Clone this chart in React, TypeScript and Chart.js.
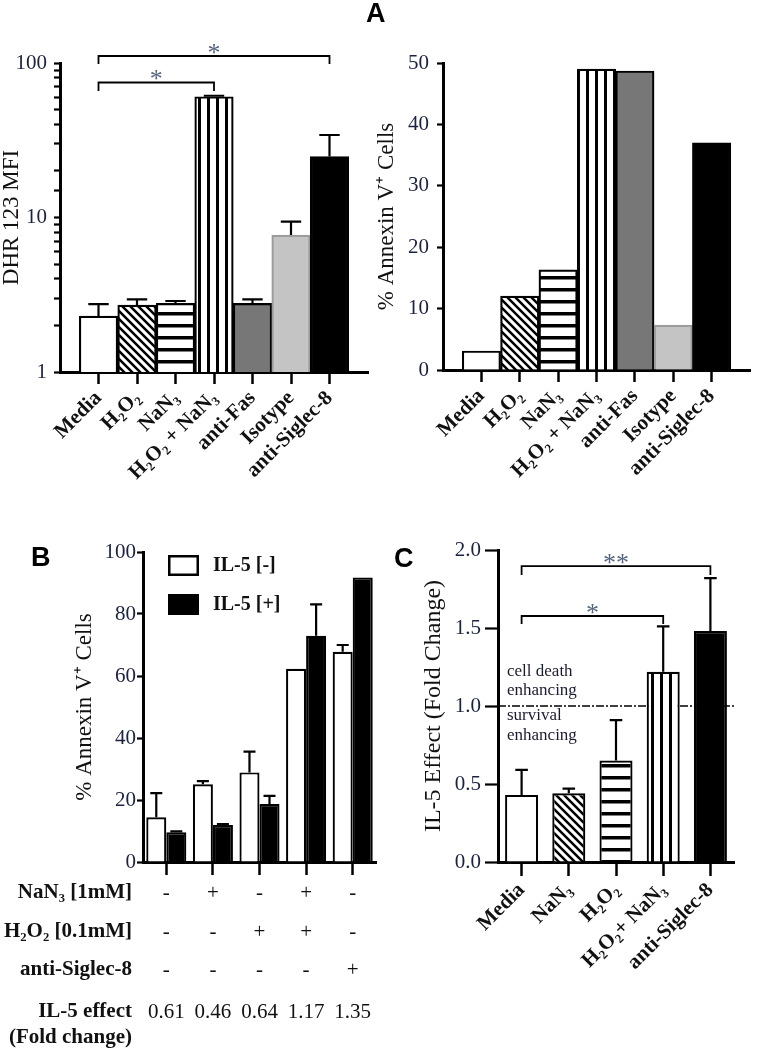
import React, { useEffect, useRef } from "react";
import { Chart, registerables } from "chart.js";
Chart.register(...registerables);

const SERIF = "'Liberation Serif', 'Times New Roman', Times, serif";
const SANS = "'Liberation Sans', Arial, Helvetica, sans-serif";
const INK = "#111111";
const TICK_INK = "#1b2140";
const STAR_INK = "#56667e";

// ---------------- Panel A data ----------------
const categoriesA = ["Media", "H₂O₂", "NaN₃", "H₂O₂ + NaN₃", "anti-Fas", "Isotype", "anti-Siglec-8"];
const dhrMfi = [2.3, 2.71, 2.78, 60.5, 2.78, 7.7, 24.8];
const dhrErr = [0.45, 0.24, 0.1, 0.9, 0.17, 1.7, 9.4];
const annexinA = [3.1, 12.05, 16.3, 49.0, 48.7, 7.3, 37.0];
const logTickLabels = [1, 10, 100];
const bracketsA = [
  { from: 0, to: 6, level: 111, leg: 98.6, label: "*" },
  { from: 0, to: 3, level: 74.8, leg: 65.9, label: "*" },
];

// ---------------- Panel B data ----------------
const conditionsB = ["Media", "NaN₃", "H₂O₂", "H₂O₂ + NaN₃", "anti-Siglec-8"];
const seriesBLabels = ["IL-5 [-]", "IL-5 [+]"];
const il5Minus = [14.4, 25.1, 28.9, 62.3, 67.8];
const il5MinusErr = [7.8, 1.0, 6.7, 0, 2.2];
const il5Plus = [9.6, 11.9, 18.7, 73.0, 91.8];
const il5PlusErr = [0.3, 0.3, 2.6, 10.1, 0];
const nanRow = ["-", "+", "-", "+", "-"];
const h2o2Row = ["-", "-", "+", "+", "-"];
const siglecRow = ["-", "-", "-", "-", "+"];
const il5EffectRow = ["0.61", "0.46", "0.64", "1.17", "1.35"];

// ---------------- Panel C data ----------------
const categoriesC = ["Media", "NaN₃", "H₂O₂", "H₂O₂+ NaN₃", "anti-Siglec-8"];
const foldC = [0.43, 0.44, 0.65, 1.22, 1.48];
const foldCErr = [0.16, 0.03, 0.26, 0.29, 0.34];
const bracketsC = [
  { from: 0, to: 4, level: 1.897, leg: 1.84, label: "**" },
  { from: 0, to: 3, level: 1.577, leg: 1.526, label: "*" },
];

type Kind = "diag" | "horiz" | "vert";
function makePattern(kind: Kind): CanvasPattern {
  const c = document.createElement("canvas");
  const s = kind === "horiz" ? 12 : kind === "vert" ? 9 : 8;
  c.width = s;
  c.height = s;
  const x = c.getContext("2d")!;
  x.fillStyle = "#fff";
  x.fillRect(0, 0, s, s);
  x.fillStyle = "#000";
  x.strokeStyle = "#000";
  if (kind === "horiz") x.fillRect(0, 0, s, 3.5);
  if (kind === "vert") x.fillRect(0, 0, 3, s);
  if (kind === "diag") {
    x.lineWidth = 2.5;
    x.beginPath();
    for (let k = -1; k <= 1; k++) {
      x.moveTo(k * s - 2, -2);
      x.lineTo(k * s + s + 2, s + 2);
    }
    x.stroke();
  }
  return x.createPattern(c, "repeat")!;
}

function drawErrorBars(chart: any, errs: number[][], capFrac: number) {
  const ctx = chart.ctx;
  const y = chart.scales.y;
  ctx.save();
  ctx.strokeStyle = "#000";
  ctx.lineWidth = 2.2;
  chart.data.datasets.forEach((ds: any, di: number) => {
    const e = errs[di];
    if (!e) return;
    const meta = chart.getDatasetMeta(di);
    meta.data.forEach((el: any, i: number) => {
      const err = e[i];
      if (!err) return;
      const raw = ds.data[i];
      const v = typeof raw === "number" ? raw : raw.y;
      const p = el.getProps(["x", "y", "width"], true);
      const top = y.getPixelForValue(v + err);
      const cw = (p.width * capFrac) / 2;
      ctx.beginPath();
      ctx.moveTo(p.x, p.y);
      ctx.lineTo(p.x, top);
      ctx.moveTo(p.x - cw, top);
      ctx.lineTo(p.x + cw, top);
      ctx.stroke();
    });
  });
  ctx.restore();
}

function drawBrackets(chart: any, list: any[]) {
  const { ctx } = chart;
  const xs = chart.scales.x;
  const ys = chart.scales.y;
  ctx.save();
  list.forEach((b) => {
    const x1 = xs.getPixelForValue(b.from);
    const x2 = xs.getPixelForValue(b.to);
    const yl = ys.getPixelForValue(b.level);
    const yg = ys.getPixelForValue(b.leg);
    ctx.strokeStyle = "#000";
    ctx.lineWidth = 1.8;
    ctx.beginPath();
    ctx.moveTo(x1, yg);
    ctx.lineTo(x1, yl);
    ctx.lineTo(x2, yl);
    ctx.lineTo(x2, yg);
    ctx.stroke();
    ctx.fillStyle = STAR_INK;
    ctx.font = `26px ${SERIF}`;
    ctx.textAlign = "center";
    ctx.textBaseline = "alphabetic";
    ctx.fillText(b.label, (x1 + x2) / 2, yl + 5);
  });
  ctx.restore();
}

function xAxisLinear(labels: string[], height: number) {
  return {
    type: "linear",
    min: -1,
    max: labels.length,
    offset: false,
    grid: { display: true, offset: false, drawOnChartArea: false, drawTicks: true, tickLength: 12, tickWidth: 2.5, tickColor: "#000" },
    border: { display: true, color: "#000", width: 3 },
    afterBuildTicks: (s: any) => {
      s.ticks = labels.map((_, i) => ({ value: i }));
    },
    afterFit: (s: any) => {
      s.height = height;
    },
    ticks: {
      autoSkip: false,
      maxRotation: 45,
      minRotation: 45,
      padding: 2,
      color: INK,
      font: { family: SERIF, size: 21, weight: "bold" },
      callback: (v: any) => labels[v as number] ?? "",
    },
  };
}

function configALeft(): any {
  const fills = ["#ffffff", makePattern("diag"), makePattern("horiz"), makePattern("vert"), "#777777", "#c4c4c4", "#000000"];
  const borders = ["#000", "#000", "#000", "#000", "#000", "#9c9c9c", "#000"];
  return {
    type: "bar",
    data: {
      datasets: [
        {
          data: dhrMfi.map((v, i) => ({ x: i, y: v })),
          backgroundColor: fills,
          borderColor: borders,
          borderWidth: 2.2,
          barPercentage: 1,
          categoryPercentage: 1,
        },
      ],
    },
    options: {
      responsive: false,
      animation: false,
      devicePixelRatio: 1,
      layout: { padding: { top: 63, right: 2, left: 0, bottom: 0 } },
      plugins: { legend: { display: false }, tooltip: { enabled: false } },
      scales: {
        x: xAxisLinear(categoriesA, 108),
        y: {
          type: "logarithmic",
          min: 1,
          max: 100,
          grid: { drawOnChartArea: false, tickLength: 6, tickWidth: 2.2, tickColor: "#000" },
          border: { color: "#000", width: 3 },
          afterFit: (s: any) => {
            s.width = 60;
          },
          ticks: {
            autoSkip: false,
            padding: 7,
            color: TICK_INK,
            font: { family: SERIF, size: 21 },
            callback: (v: any) => (logTickLabels.includes(Number(v)) ? String(v) : ""),
          },
          title: {
            display: true,
            text: "DHR 123 MFI",
            color: INK,
            font: { family: SERIF, size: 23, lineHeight: 1 },
            padding: { top: 0, bottom: 0 },
          },
        },
      },
    },
    plugins: [
      { id: "errA", afterDatasetsDraw: (c: any) => drawErrorBars(c, [dhrErr], 0.53) },
      { id: "brA", afterDraw: (c: any) => drawBrackets(c, bracketsA) },
    ],
  };
}

function configARight(): any {
  const fills = ["#ffffff", makePattern("diag"), makePattern("horiz"), makePattern("vert"), "#777777", "#c4c4c4", "#000000"];
  const borders = ["#000", "#000", "#000", "#000", "#000", "#9c9c9c", "#000"];
  return {
    type: "bar",
    data: {
      datasets: [
        {
          data: annexinA.map((v, i) => ({ x: i, y: v })),
          backgroundColor: fills,
          borderColor: borders,
          borderWidth: 2.2,
          barPercentage: 1,
          categoryPercentage: 1,
        },
      ],
    },
    options: {
      responsive: false,
      animation: false,
      devicePixelRatio: 1,
      layout: { padding: { top: 63, right: 12, left: 0, bottom: 0 } },
      plugins: { legend: { display: false }, tooltip: { enabled: false } },
      scales: {
        x: xAxisLinear(categoriesA, 110),
        y: {
          type: "linear",
          min: 0,
          max: 50,
          grid: { drawOnChartArea: false, tickLength: 6, tickWidth: 2.2, tickColor: "#000" },
          border: { color: "#000", width: 3 },
          afterFit: (s: any) => {
            s.width = 73;
          },
          ticks: { stepSize: 10, padding: 8, color: TICK_INK, font: { family: SERIF, size: 21 } },
          title: {
            display: true,
            text: "% Annexin V⁺ Cells",
            color: INK,
            font: { family: SERIF, size: 23, lineHeight: 1 },
            padding: { top: 5, bottom: 0 },
          },
        },
      },
    },
  };
}

function configB(): any {
  return {
    type: "bar",
    data: {
      labels: conditionsB,
      datasets: [
        { label: seriesBLabels[0], data: il5Minus, backgroundColor: "#ffffff", borderColor: "#000", borderWidth: 2.2 },
        { label: seriesBLabels[1], data: il5Plus, backgroundColor: "#000000", borderColor: "#000", borderWidth: 2.2 },
      ],
    },
    options: {
      responsive: false,
      animation: false,
      devicePixelRatio: 1,
      barPercentage: 1,
      categoryPercentage: 0.86,
      layout: { padding: { top: 52, right: 5, left: 0, bottom: 0 } },
      plugins: { legend: { display: false }, tooltip: { enabled: false } },
      scales: {
        x: {
          type: "category",
          offset: true,
          grid: { display: true, offset: false, drawOnChartArea: false, tickLength: 13, tickWidth: 2.5, tickColor: "#000" },
          border: { color: "#000", width: 3 },
          afterFit: (s: any) => {
            s.height = 188;
          },
          ticks: { autoSkip: false, maxRotation: 0, minRotation: 0, callback: () => "" },
        },
        y: {
          type: "linear",
          min: 0,
          max: 100,
          grid: { drawOnChartArea: false, tickLength: 6, tickWidth: 2.2, tickColor: "#000" },
          border: { color: "#000", width: 3 },
          afterFit: (s: any) => {
            s.width = 143;
          },
          ticks: { stepSize: 20, padding: 1, color: TICK_INK, font: { family: SERIF, size: 21 } },
          title: {
            display: true,
            text: "% Annexin V⁺ Cells",
            color: INK,
            font: { family: SERIF, size: 23, lineHeight: 1 },
            padding: { top: 73, bottom: 0 },
          },
        },
      },
    },
    plugins: [
      { id: "errB", afterDatasetsDraw: (c: any) => drawErrorBars(c, [il5MinusErr, il5PlusErr], 0.6) },
      {
        id: "legendB",
        afterDraw: (c: any) => {
          const { ctx, chartArea } = c;
          ctx.save();
          c.data.datasets.forEach((ds: any, i: number) => {
            const bx = chartArea.left + 25;
            const by = chartArea.top + 3 + i * 39;
            ctx.fillStyle = ds.backgroundColor;
            ctx.fillRect(bx, by, 31, 21);
            ctx.strokeStyle = "#000";
            ctx.lineWidth = 2.5;
            ctx.strokeRect(bx + 1.25, by + 1.25, 28.5, 18.5);
            ctx.fillStyle = INK;
            ctx.font = `bold 20px ${SERIF}`;
            ctx.textAlign = "left";
            ctx.textBaseline = "middle";
            ctx.fillText(ds.label, bx + 45, by + 11);
          });
          ctx.restore();
        },
      },
      {
        id: "tableB",
        afterDraw: (c: any) => {
          const { ctx, chartArea } = c;
          const xs = c.scales.x;
          const rows = [
            { label: "NaN₃ [1mM]", vals: nanRow, dy: 31 },
            { label: "H₂O₂ [0.1mM]", vals: h2o2Row, dy: 70 },
            { label: "anti-Siglec-8", vals: siglecRow, dy: 108 },
            { label: "IL-5 effect", vals: il5EffectRow, dy: 150 },
            { label: "(Fold change)", vals: [] as string[], dy: 176 },
          ];
          ctx.save();
          ctx.textBaseline = "middle";
          rows.forEach((r) => {
            const yy = chartArea.bottom + r.dy;
            ctx.fillStyle = INK;
            ctx.font = `bold 21px ${SERIF}`;
            ctx.textAlign = "right";
            ctx.fillText(r.label, chartArea.left - 11, yy);
            ctx.font = `21px ${SERIF}`;
            ctx.textAlign = "center";
            r.vals.forEach((v, i) => ctx.fillText(v, xs.getPixelForValue(i), yy));
          });
          ctx.restore();
        },
      },
    ],
  };
}

function configC(): any {
  const fills = ["#ffffff", makePattern("diag"), makePattern("horiz"), makePattern("vert"), "#000000"];
  return {
    type: "bar",
    data: {
      labels: categoriesC,
      datasets: [
        {
          data: foldC,
          backgroundColor: fills,
          borderColor: "#000",
          borderWidth: 2.2,
          barPercentage: 0.7,
          categoryPercentage: 1,
        },
      ],
    },
    options: {
      responsive: false,
      animation: false,
      devicePixelRatio: 1,
      layout: { padding: { top: 50, right: 28, left: 0, bottom: 0 } },
      plugins: { legend: { display: false }, tooltip: { enabled: false } },
      scales: {
        x: {
          type: "category",
          offset: true,
          grid: { display: true, offset: false, drawOnChartArea: false, tickLength: 14, tickWidth: 2.5, tickColor: "#000" },
          border: { color: "#000", width: 3 },
          afterFit: (s: any) => {
            s.height = 188;
          },
          ticks: {
            autoSkip: false,
            maxRotation: 45,
            minRotation: 45,
            padding: 2,
            color: INK,
            font: { family: SERIF, size: 21, weight: "bold" },
          },
        },
        y: {
          type: "linear",
          min: 0,
          max: 2,
          grid: { drawOnChartArea: false, tickLength: 13, tickWidth: 2.2, tickColor: "#000" },
          border: { color: "#000", width: 3 },
          afterFit: (s: any) => {
            s.width = 117;
          },
          ticks: {
            stepSize: 0.5,
            padding: 4,
            color: TICK_INK,
            font: { family: SERIF, size: 21 },
            callback: (v: any) => Number(v).toFixed(1),
          },
          title: {
            display: true,
            text: "IL-5 Effect (Fold Change)",
            color: INK,
            font: { family: SERIF, size: 24, lineHeight: 1 },
            padding: { top: 41, bottom: 0 },
          },
        },
      },
    },
    plugins: [
      {
        id: "refLine",
        beforeDatasetsDraw: (c: any) => {
          const { ctx, chartArea } = c;
          const yy = c.scales.y.getPixelForValue(1.0);
          ctx.save();
          ctx.strokeStyle = "#000";
          ctx.lineWidth = 1.6;
          ctx.setLineDash([8, 2, 2, 2]);
          ctx.beginPath();
          ctx.moveTo(chartArea.left, yy);
          ctx.lineTo(chartArea.right, yy);
          ctx.stroke();
          ctx.restore();
        },
      },
      { id: "errC", afterDatasetsDraw: (c: any) => drawErrorBars(c, [foldCErr], 0.38) },
      { id: "brC", afterDraw: (c: any) => drawBrackets(c, bracketsC) },
      {
        id: "zoneText",
        afterDraw: (c: any) => {
          const { ctx, chartArea } = c;
          const yy = c.scales.y.getPixelForValue(1.0);
          ctx.save();
          ctx.fillStyle = "#1a1a30";
          ctx.font = `17px ${SERIF}`;
          ctx.textAlign = "left";
          ctx.textBaseline = "middle";
          const x0 = chartArea.left + 9;
          ctx.fillText("cell death", x0, yy - 34);
          ctx.fillText("enhancing", x0, yy - 15);
          ctx.fillText("survival", x0, yy + 10);
          ctx.fillText("enhancing", x0, yy + 30);
          ctx.restore();
        },
      },
    ],
  };
}

function ChartCanvas(props: { left: number; top: number; width: number; height: number; make: () => any }) {
  const ref = useRef<HTMLCanvasElement | null>(null);
  useEffect(() => {
    if (!ref.current) return;
    const chart = new Chart(ref.current, props.make());
    return () => chart.destroy();
  }, []);
  return (
    <canvas
      ref={ref}
      width={props.width}
      height={props.height}
      style={{ position: "absolute", left: props.left, top: props.top, width: props.width, height: props.height }}
    />
  );
}

const letterStyle = (left: number, top: number): React.CSSProperties => ({
  position: "absolute",
  left,
  top,
  fontFamily: SANS,
  fontWeight: "bold",
  fontSize: 27,
  lineHeight: "27px",
  color: "#000",
});

export default function App() {
  return (
    <div style={{ position: "absolute", left: 0, top: 0, width: 762, height: 1050, background: "#fff", overflow: "hidden" }}>
      <ChartCanvas left={0} top={0} width={370} height={480} make={configALeft} />
      <ChartCanvas left={370} top={0} width={392} height={480} make={configARight} />
      <ChartCanvas left={0} top={500} width={381} height={550} make={configB} />
      <ChartCanvas left={381} top={500} width={381} height={550} make={configC} />
      <div style={letterStyle(366, 0)}>A</div>
      <div style={letterStyle(31, 544)}>B</div>
      <div style={letterStyle(394, 545)}>C</div>
    </div>
  );
}
